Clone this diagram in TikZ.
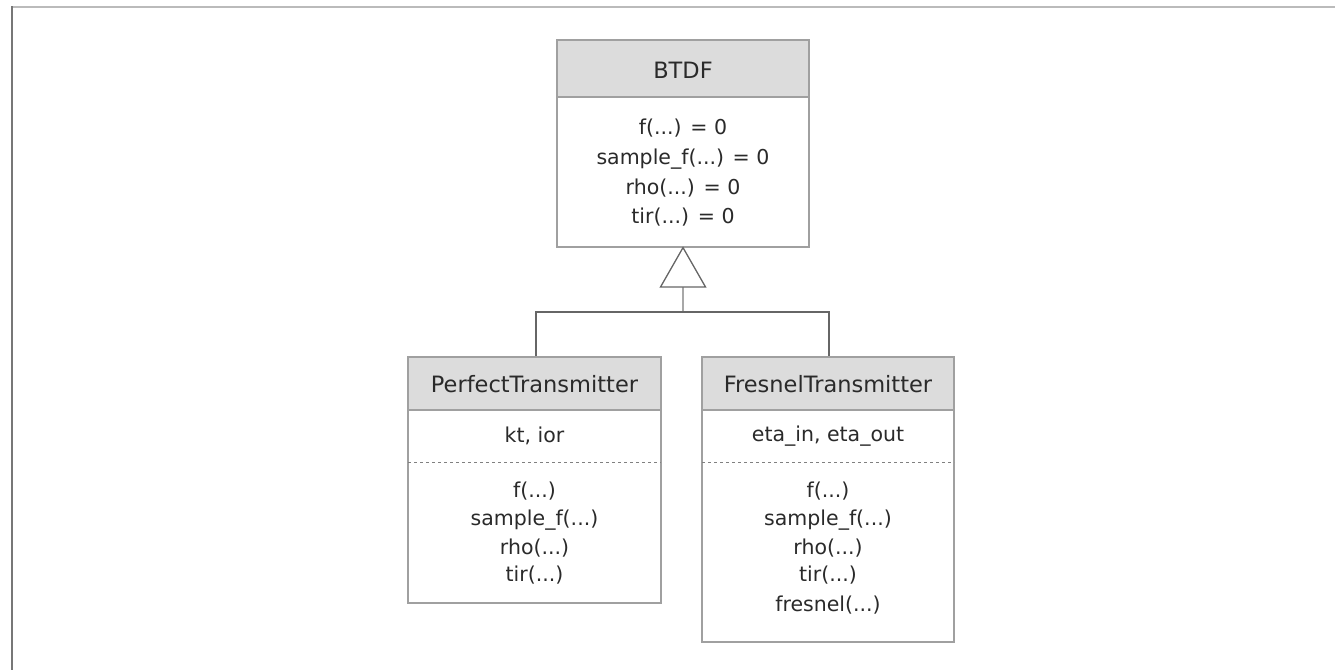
\documentclass[tikz,border=0pt]{standalone}
\usepackage{fontspec}
\setmainfont{DejaVu Sans}
\begin{document}
\begin{tikzpicture}[x=1pt,y=-1pt,
  box/.style={draw=boxgray, line width=1.2pt, rectangle, inner sep=0pt},
  hdr/.style={fill=hdrgray},
  txt/.style={text=txtgray, font=\fontsize{20.5}{22}\selectfont, inner sep=0pt, anchor=center},
  htxt/.style={txt, font=\fontsize{22.5}{24}\selectfont},
  conn/.style={draw=conngray, line width=1.3pt},
  stem/.style={draw=stemgray, line width=2pt},
  sep/.style={draw=sepgray, line width=1pt, dash pattern=on 3pt off 3pt}]
\definecolor{boxgray}{HTML}{A0A0A0}
\definecolor{sepgray}{HTML}{808080}
\definecolor{hdrgray}{HTML}{DCDCDC}
\definecolor{txtgray}{HTML}{2A2A2A}
\definecolor{conngray}{HTML}{666666}
\definecolor{stemgray}{HTML}{A8A8A8}
\definecolor{frametop}{HTML}{BBBBBB}
\definecolor{frameleft}{HTML}{777777}
\useasboundingbox (0,0) rectangle (1335,670);
\fill[white] (0,0) rectangle (1335,670);
% frame
\draw[frametop, line width=2.5pt] (11,7) -- (1335,7);
\draw[frameleft, line width=2.5pt] (12,6) -- (12,670);

% BTDF
\fill[hdrgray] (557,40) rectangle (809,97);
\node[box, minimum width=252pt, minimum height=207pt] (btdf) at (683,143.5) {};
\draw[boxgray, line width=1.2pt] (557,97) -- (809,97);
\node[htxt] (btdfT) at (683,70) {BTDF};
\node[txt] (b1) at (683,128) {f(...) = 0};
\node[txt] (b2) at (683,159) {sample\_f(...) = 0};
\node[txt] (b3) at (683,188) {rho(...) = 0};
\node[txt] (b4) at (683,217) {tir(...) = 0};

% PerfectTransmitter
\fill[hdrgray] (408,357) rectangle (661,410);
\node[box, minimum width=253pt, minimum height=246pt] (perfect) at (534.5,480) {};
\draw[boxgray, line width=1.2pt] (408,410) -- (661,410);
\draw[sep] (408,462) -- (661,462);
\node[htxt] (pT) at (534.5,384) {PerfectTransmitter};
\node[txt] (p0) at (534.5,436) {kt, ior};
\node[txt] (p1) at (534.5,491) {f(...)};
\node[txt] (p2) at (534.5,520) {sample\_f(...)};
\node[txt] (p3) at (534.5,548) {rho(...)};
\node[txt] (p4) at (534.5,575) {tir(...)};

% FresnelTransmitter
\fill[hdrgray] (702,357) rectangle (954,410);
\node[box, minimum width=252pt, minimum height=285pt] (fresnel) at (828,499.5) {};
\draw[boxgray, line width=1.2pt] (702,410) -- (954,410);
\draw[sep] (702,462) -- (954,462);
\node[htxt] (fT) at (828,384) {FresnelTransmitter};
\node[txt] (f0) at (828,436) {eta\_in, eta\_out};
\node[txt] (f1) at (828,491) {f(...)};
\node[txt] (f2) at (828,520) {sample\_f(...)};
\node[txt] (f3) at (828,548) {rho(...)};
\node[txt] (f4) at (828,575) {tir(...)};
\node[txt] (f5) at (828,605) {fresnel(...)};

% inheritance
\coordinate (tri) at (683,287);
\coordinate (junc) at (683,312);
\draw[stem] (tri) -- (junc);
\draw[conn] ([xshift=1.5pt]perfect.north) |- (junc) -| ([xshift=1pt]fresnel.north);
\draw[conn, fill=white, line join=miter] (btdf.south) -- (660.5,287) -- (705.5,287) -- cycle;
\end{tikzpicture}
\end{document}
